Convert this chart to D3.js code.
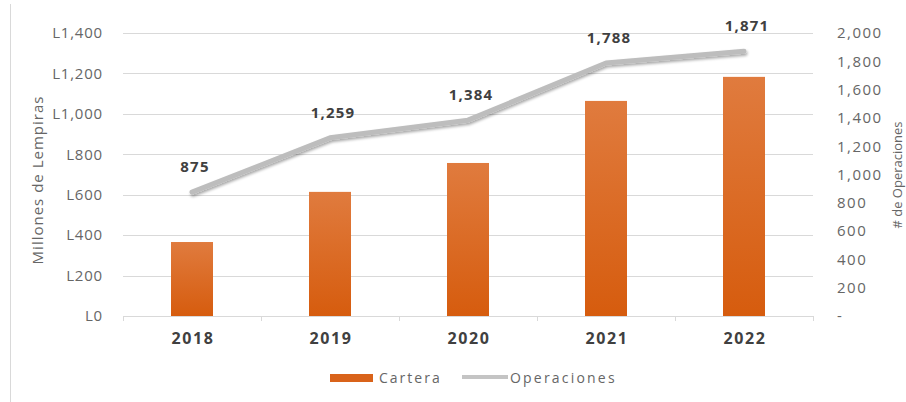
<!DOCTYPE html>
<html>
<head>
<meta charset="utf-8">
<script src="https://cdn.jsdelivr.net/npm/d3@7"></script>
<style>
  html, body { margin: 0; padding: 0; background: #fff; }
  svg text { font-family: "Open Sans", "Noto Sans", sans-serif; }
</style>
</head>
<body>
<svg id="chart" width="906" height="402"></svg>
<script>
// Portfolio (millions of lempiras) and number of operations per year
const years = ["2018", "2019", "2020", "2021", "2022"];
const cartera = [366, 614, 757, 1064, 1183];
const operaciones = [875, 1259, 1384, 1788, 1871];
const leftTicks = [0, 200, 400, 600, 800, 1000, 1200, 1400];
const rightTicks = [0, 200, 400, 600, 800, 1000, 1200, 1400, 1600, 1800, 2000];

const svg = d3.select("#chart");
const margin = { left: 123, right: 813, top: 33, bottom: 316 };

const x = d3.scaleBand().domain(years).range([margin.left, margin.right]);
const yL = d3.scaleLinear().domain([0, 1400]).range([margin.bottom, margin.top]);
const yR = d3.scaleLinear().domain([0, 2000]).range([margin.bottom, margin.top]);

// frame edge on the left
svg.append("line").attr("x1", 10.5).attr("x2", 10.5).attr("y1", 4).attr("y2", 402)
  .attr("stroke", "#d9d9d9").attr("stroke-width", 1);

// bar gradient
const defs = svg.append("defs");
const grad = defs.append("linearGradient").attr("id", "barGrad")
  .attr("x1", 0).attr("y1", 0).attr("x2", 0).attr("y2", 1);
grad.append("stop").attr("offset", "0%").attr("stop-color", "#e07b3e");
grad.append("stop").attr("offset", "100%").attr("stop-color", "#d65c0e");

const shadow = defs.append("filter").attr("id", "lineShadow")
  .attr("x", "-10%").attr("y", "-50%").attr("width", "120%").attr("height", "200%");
shadow.append("feGaussianBlur").attr("in", "SourceAlpha").attr("stdDeviation", 1.5).attr("result", "b");
shadow.append("feOffset").attr("in", "b").attr("dx", 1).attr("dy", 2).attr("result", "o");
shadow.append("feComponentTransfer").attr("in", "o").attr("result", "s")
  .append("feFuncA").attr("type", "linear").attr("slope", 0.35);
const merge = shadow.append("feMerge");
merge.append("feMergeNode").attr("in", "s");
merge.append("feMergeNode").attr("in", "SourceGraphic");

// gridlines
svg.append("g").selectAll("line").data(leftTicks.filter(d => d > 0)).join("line")
  .attr("x1", margin.left).attr("x2", margin.right)
  .attr("y1", d => Math.round(yL(d)) + 0.5).attr("y2", d => Math.round(yL(d)) + 0.5)
  .attr("stroke", "#d9d9d9").attr("stroke-width", 1);

// left axis
const fmtL = d => "L" + d3.format(",")(d);
const gL = svg.append("g").attr("transform", `translate(${margin.left},0)`)
  .call(d3.axisLeft(yL).tickValues(leftTicks).tickFormat(fmtL).tickSize(0).tickPadding(20));
gL.select(".domain").remove();
gL.selectAll("text").attr("fill", "#666").style("font-size", "15px").style("letter-spacing", "0.8px");

// right axis
const fmtR = d => d === 0 ? "-" : d3.format(",")(d);
const gR = svg.append("g").attr("transform", `translate(${margin.right},0)`)
  .call(d3.axisRight(yR).tickValues(rightTicks).tickFormat(fmtR).tickSize(0).tickPadding(24));
gR.select(".domain").remove();
gR.selectAll("text").attr("fill", "#666").style("font-size", "15px").style("letter-spacing", "1.5px");

// bottom axis
const gX = svg.append("g").attr("transform", `translate(0,${margin.bottom})`)
  .call(d3.axisBottom(x).tickSize(0).tickPadding(17));
gX.select(".domain").attr("stroke", "#d9d9d9");
gX.selectAll("text").attr("fill", "#404040").style("font-size", "16px")
  .style("font-weight", "bold").style("letter-spacing", "1.6px").attr("dx", "1px");
// category separators
svg.append("g").selectAll("line").data(d3.range(years.length + 1)).join("line")
  .attr("x1", i => margin.left + i * x.step() + 0.5).attr("x2", i => margin.left + i * x.step() + 0.5)
  .attr("y1", margin.bottom).attr("y2", margin.bottom + 5)
  .attr("stroke", "#d9d9d9");

// bars
const barW = 42;
svg.append("g").selectAll("rect").data(cartera).join("rect")
  .attr("x", (d, i) => x(years[i]) + x.bandwidth() / 2 - barW / 2)
  .attr("y", d => yL(d))
  .attr("width", barW)
  .attr("height", d => yL(0) - yL(d))
  .attr("fill", "url(#barGrad)");

// operations line
const line = d3.line().x((d, i) => x(years[i]) + x.bandwidth() / 2).y(d => yR(d));
svg.append("path").datum(operaciones)
  .attr("d", line).attr("fill", "none")
  .attr("stroke", "#bdbdbd").attr("stroke-width", 5).attr("stroke-linejoin", "round")
  .attr("stroke-linecap", "round")
  .attr("filter", "url(#lineShadow)");

// value labels
svg.append("g").selectAll("text").data(operaciones).join("text")
  .attr("x", (d, i) => x(years[i]) + x.bandwidth() / 2 + 3)
  .attr("y", d => yR(d) - 20)
  .attr("text-anchor", "middle")
  .attr("fill", "#404040").style("font-size", "15px").style("font-weight", "bold")
  .style("letter-spacing", "1.2px")
  .text(d => d3.format(",")(d));

// axis titles
svg.append("text").attr("transform", `translate(43,180) rotate(-90)`)
  .attr("text-anchor", "middle").attr("fill", "#666").style("font-size", "15px")
  .style("letter-spacing", "1px")
  .text("Millones de Lempiras");
svg.append("text").attr("transform", `translate(902,175) rotate(-90)`)
  .attr("text-anchor", "middle").attr("fill", "#666").style("font-size", "13px")
  .text("# de Operaciones");

// legend
const lg = svg.append("g").attr("transform", "translate(330,378)");
lg.append("rect").attr("x", 0).attr("y", -4).attr("width", 43).attr("height", 8).attr("fill", "#d9631a");
lg.append("text").attr("x", 49).attr("y", 5).attr("fill", "#666").style("font-size", "14px")
  .style("letter-spacing", "2px").text("Cartera");
lg.append("line").attr("x1", 132).attr("x2", 178).attr("y1", -1).attr("y2", -1)
  .attr("stroke", "#c4c4c4").attr("stroke-width", 4);
lg.append("text").attr("x", 180).attr("y", 5).attr("fill", "#666").style("font-size", "14px")
  .style("letter-spacing", "2.2px").text("Operaciones");
</script>
</body>
</html>
